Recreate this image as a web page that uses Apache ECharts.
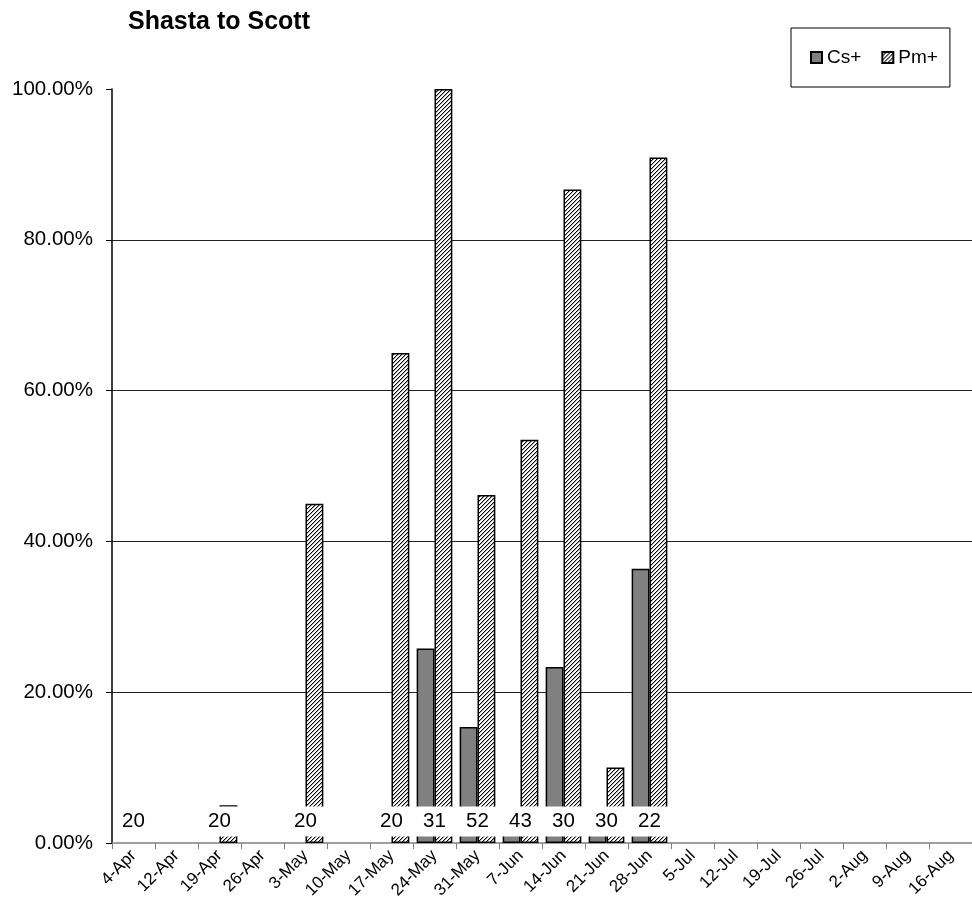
<!DOCTYPE html>
<html>
<head>
<meta charset="utf-8">
<script src="https://cdn.jsdelivr.net/npm/echarts@6/dist/echarts.min.js"></script>
<style>
html,body{margin:0;padding:0;background:#fff;}
#chart{width:972px;height:903px;}
</style>
</head>
<body>
<div id="chart"></div>
<script>
const categories = ['4-Apr','12-Apr','19-Apr','26-Apr','3-May','10-May','17-May','24-May','31-May','7-Jun','14-Jun','21-Jun','28-Jun','5-Jul','12-Jul','19-Jul','26-Jul','2-Aug','9-Aug','16-Aug'];
const csPlus = [null,null,null,null,null,null,null,25.81,15.38,2.33,23.33,3.33,36.36,null,null,null,null,null,null,null];
const pmPlus = [null,null,5,null,45,null,65,100,46.15,53.49,86.67,10,90.91,null,null,null,null,null,null,null];
const sampleN = [20,null,20,null,20,null,20,31,52,43,30,30,22,null,null,null,null,null,null,null];
const yTicks = [0,20,40,60,80,100];

function hatchPattern(){
  const c = document.createElement('canvas');
  c.width = 4; c.height = 4;
  const g = c.getContext('2d');
  g.fillStyle = '#fff'; g.fillRect(0,0,4,4);
  for (let i = 0; i < 4; i++) {
    g.fillStyle = '#000'; g.fillRect(i, 3 - i, 1, 1);
    g.fillStyle = '#a8a8a8'; g.fillRect((i + 1) % 4, 3 - i, 1, 1);
  }
  return c;
}

const chart = echarts.init(document.getElementById('chart'), null, {renderer:'canvas'});
const font = 'Liberation Sans, Arial, sans-serif';
chart.setOption({
  animation: false,
  backgroundColor: '#fff',
  title: {
    text: 'Shasta to Scott',
    left: 128, top: 10, padding: 0,
    textStyle: {fontFamily: font, fontSize: 25, fontWeight: 'bold', color: '#000'}
  },
  legend: {
    data: ['Cs+','Pm+'],
    left: 791, top: 28,
    padding: [20, 12, 20, 19],
    itemGap: 20,
    itemWidth: 11, itemHeight: 11,
    icon: 'rect',
    borderColor: '#000', borderWidth: 1,
    textStyle: {fontFamily: font, fontSize: 19, color: '#000'}
  },
  grid: {left: 112, right: 0, top: 89, bottom: 60, containLabel: false},
  xAxis: {
    type: 'category',
    data: categories,
    boundaryGap: true,
    axisLine: {lineStyle: {color: '#808080', width: 1.5}},
    axisTick: {show: true, length: 6, lineStyle: {color: '#808080', width: 1}},
    axisLabel: {rotate: 45, fontFamily: font, fontSize: 17, color: '#000', margin: 10, interval: 0},
    splitLine: {show: false}
  },
  yAxis: {
    type: 'value',
    min: yTicks[0], max: yTicks[yTicks.length - 1], interval: 20,
    axisLine: {show: true, lineStyle: {color: '#000', width: 1.5}},
    axisTick: {show: true, length: 6, lineStyle: {color: '#000', width: 1}},
    axisLabel: {fontFamily: font, fontSize: 20.5, color: '#000', margin: 19,
      formatter: v => v.toFixed(2) + '%'},
    splitLine: {show: true, showMinLine: false, showMaxLine: false, lineStyle: {color: '#222', width: 1}}
  },
  series: [
    {
      name: 'Cs+', type: 'bar', data: csPlus,
      barGap: '0%', barCategoryGap: '17%',
      itemStyle: {color: '#808080', borderColor: '#000', borderWidth: 1.5}
    },
    {
      name: 'Pm+', type: 'bar', data: pmPlus,
      barGap: '0%', barCategoryGap: '17%',
      itemStyle: {color: {image: hatchPattern(), repeat: 'repeat'}, borderColor: '#000', borderWidth: 1.5}
    },
    {
      name: 'N', type: 'scatter', z: 5,
      symbol: 'rect', symbolSize: 1,
      itemStyle: {opacity: 1, color: 'rgba(0,0,0,0)'},
      emphasis: {disabled: true},
      data: sampleN.map((n, i) => n == null ? null : {value: [i, 0], n: n}),
      label: {
        show: true, position: 'top', distance: 6,
        formatter: p => '{b|' + p.data.n + '}',
        rich: {
          b: {
            backgroundColor: '#fff', width: 40, height: 30, lineHeight: 30,
            align: 'center', verticalAlign: 'middle',
            fontFamily: font, fontSize: 20.5, color: '#000'
          }
        }
      },
      tooltip: {show: false}
    }
  ]
});
</script>
</body>
</html>
